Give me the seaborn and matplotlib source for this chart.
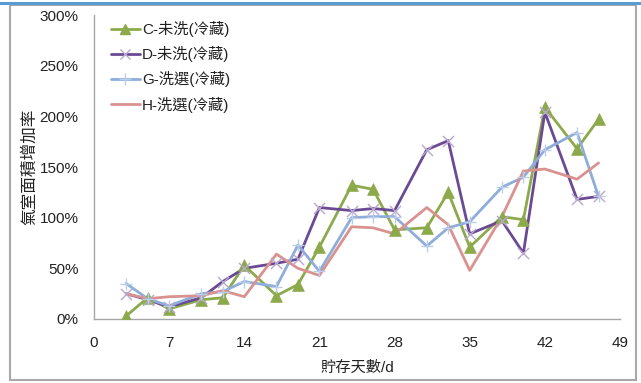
import matplotlib
matplotlib.use("Agg")
import matplotlib.pyplot as plt
import matplotlib.patches as mpatches
import matplotlib.lines as mlines
from matplotlib.ticker import FuncFormatter, MultipleLocator
import seaborn as sns
import pandas as pd

# Storage days (x) and gas-chamber area increase rate (%) per treatment
days = [3, 5, 7, 10, 12, 14, 17, 19, 21, 24, 26, 28, 31, 33, 35, 38, 40, 42, 45, 47]
series_names = ["C-未洗(冷藏)", "D-未洗(冷藏)", "G-洗選(冷藏)", "H-洗選(冷藏)"]
c_vals = [3, 21, 10, 19, 21, 53, 23, 34, 71, 132, 128, 88, 90, 125, 71, 101, 98, 209, 168, 197]
d_vals = [25, 19, 12, 21, 37, 50, 55, 59, 110, 107, 109, 107, 167, 176, 84, 97, 65, 204, 118, 121]
g_vals = [35, 20, 13, 25, 27, 37, 32, 73, 47, 100, 101, 101, 72, 90, 96, 130, 140, 167, 184, 121]
h_vals = [25, 20, 22, 23, 28, 22, 64, 50, 43, 91, 90, 84, 110, 93, 48, 101, 146, 148, 138, 154]
x_ticks = [0, 7, 14, 21, 28, 35, 42, 49]
y_label = "氣室面積增加率"
x_label = "貯存天數/d"

sns.set_theme(style="white")
plt.rcParams["font.family"] = ["Liberation Sans", "Noto Sans CJK TC", "DejaVu Sans"]

df = pd.DataFrame({
    "day": days * 4,
    "rate": c_vals + d_vals + g_vals + h_vals,
    "series": [s for s in series_names for _ in days],
})

line_colors = ["#8CAA4C", "#6A4A93", "#8EADDA", "#D9928F"]
marker_colors = ["#8CAA4C", "#B8A8CF", "#BACEEA", "#D9928F"]
markers = ["^", "x", "+", ""]
marker_sizes = [8.5, 8, 9, 0]

fig = plt.figure(figsize=(6.41, 3.83), dpi=100)
ax = fig.add_axes([94 / 641, 1 - 319 / 383, (620 - 94) / 641, (319 - 15) / 383])

sns.lineplot(data=df, x="day", y="rate", hue="series", palette=line_colors,
             linewidth=2.0, ax=ax, legend=False, sort=False)

# markers drawn on top of each series
for name, mk, mc, ms in zip(series_names, markers, marker_colors, marker_sizes):
    if not mk:
        continue
    sub = df[df["series"] == name]
    sns.scatterplot(x=sub["day"], y=sub["rate"], marker=mk, s=ms ** 2,
                    color=mc, edgecolor=mc if mk == "^" else None,
                    linewidth=1.0 if mk != "^" else 0.5, ax=ax, legend=False, zorder=3)

ax.set_xlim(0, 49)
ax.set_ylim(0, 300)
ax.set_xticks(x_ticks)
ax.yaxis.set_major_locator(MultipleLocator(50))
ax.yaxis.set_major_formatter(FuncFormatter(lambda v, p: f"{int(v)}%"))

for side in ["top", "right"]:
    ax.spines[side].set_visible(False)
for side in ["left", "bottom"]:
    ax.spines[side].set_color("#A6A6A6")
    ax.spines[side].set_linewidth(1.0)

ax.tick_params(axis="both", direction="in", length=4, width=1, color="#A6A6A6",
               labelsize=11, labelcolor="#222222")
ax.tick_params(axis="y", pad=11)
ax.tick_params(axis="x", pad=12)

ax.set_xlabel(x_label, fontsize=11, color="#222222", labelpad=8)
ax.set_ylabel(y_label, fontsize=12, color="#222222", labelpad=2)

# legend
handles = []
for name, col, mk, mc, ms in zip(series_names, line_colors, markers, marker_colors, marker_sizes):
    handles.append(mlines.Line2D([], [], color=col, linewidth=2.0,
                                 marker=mk if mk else None, markersize=ms * 0.9,
                                 markerfacecolor=mc, markeredgecolor=mc,
                                 markeredgewidth=1.0))
leg = ax.legend(handles, series_names, loc="upper left", bbox_to_anchor=(0.02, 1.0),
                frameon=False, fontsize=11, handlelength=1.9, handletextpad=0.15,
                labelspacing=0.6, borderaxespad=0.0)
for t in leg.get_texts():
    t.set_color("#222222")

# outer chart frame and top accent line
fig.patches.append(mpatches.Rectangle((10 / 641, 1 - 380 / 383), (636 - 10) / 641, (380 - 5) / 383,
                                      transform=fig.transFigure, fill=False,
                                      edgecolor="#A9A9A9", linewidth=1.5))
fig.add_artist(mlines.Line2D([0, 1], [1 - 3 / 383, 1 - 3 / 383], transform=fig.transFigure,
                             color="#5B9BD5", linewidth=2.2))

fig.savefig("out.png", dpi=100)
